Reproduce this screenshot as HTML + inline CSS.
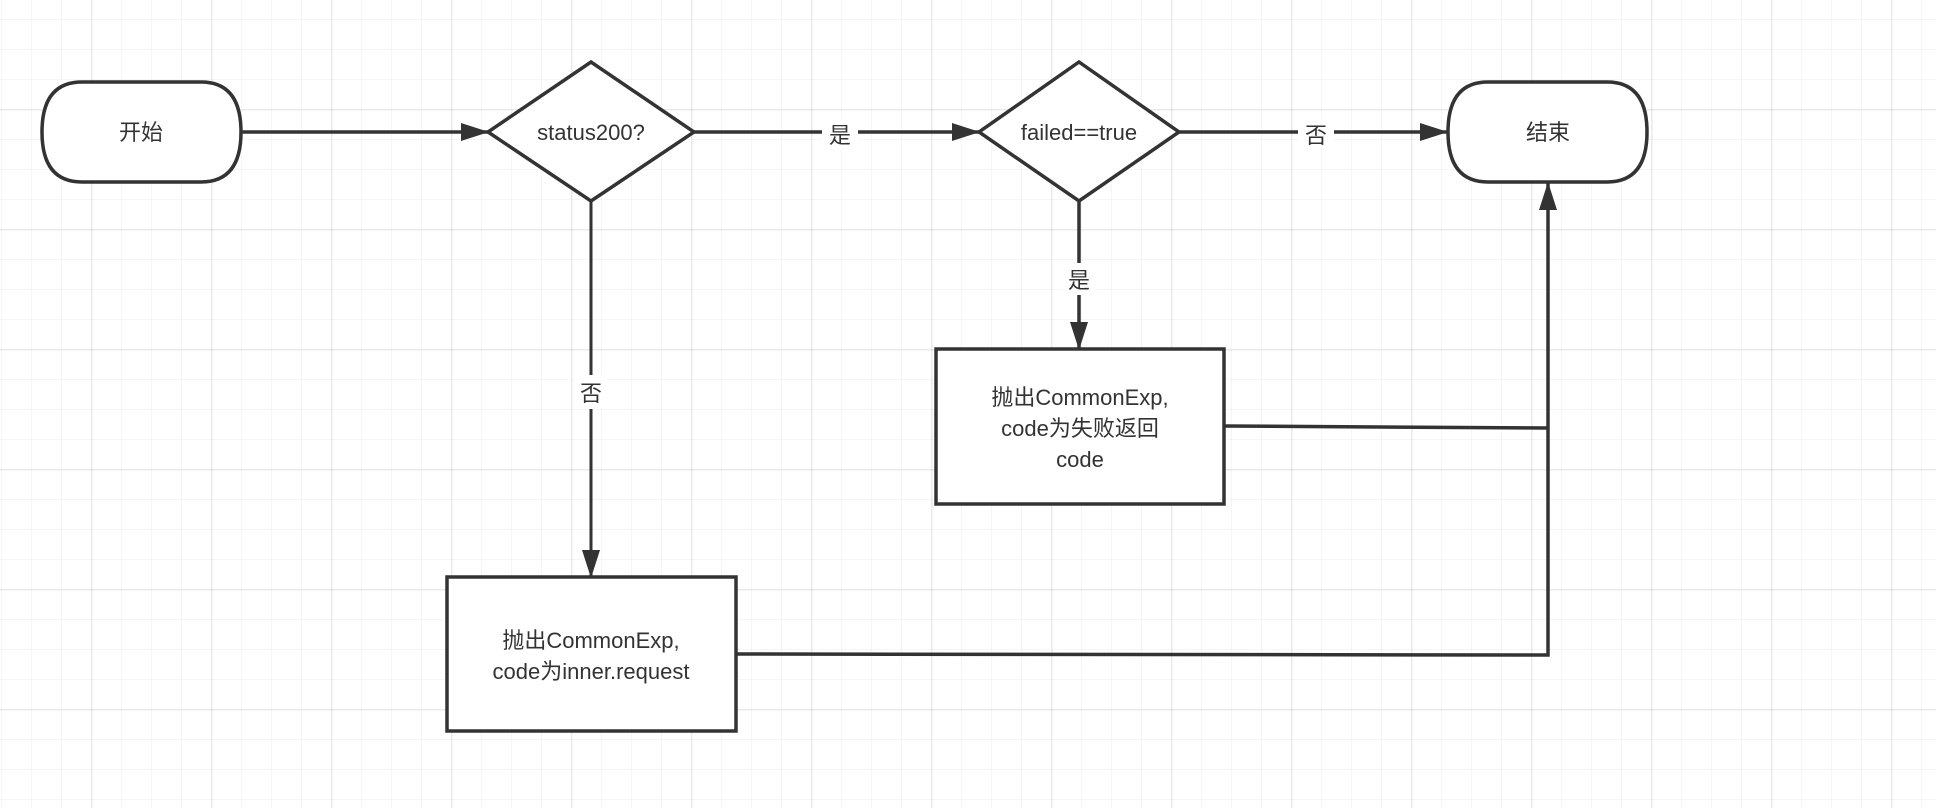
<!DOCTYPE html>
<html><head><meta charset="utf-8"><style>
html,body{margin:0;padding:0;}
body{width:1936px;height:808px;overflow:hidden;background:#fff;
background-image:
linear-gradient(to right, rgba(0,0,0,0.045) 2px, transparent 2px),
linear-gradient(to bottom, rgba(0,0,0,0.045) 2px, transparent 2px),
linear-gradient(to right, rgba(0,0,0,0.035) 1px, transparent 1px),
linear-gradient(to bottom, rgba(0,0,0,0.035) 1px, transparent 1px);
background-size:120px 120px,120px 120px,30px 30px,30px 30px;
background-position:91px 0,0 109px,1px 0,0 19px;}
svg{position:absolute;left:0;top:0;}
text{font-family:"Liberation Sans","Noto Sans CJK SC",sans-serif;font-size:22px;fill:#333;}
</style></head><body>
<svg width="1936" height="808" viewBox="0 0 1936 808">
<defs>
<marker id="b" markerWidth="28" markerHeight="18" refX="27" refY="9" orient="auto" markerUnits="userSpaceOnUse" viewBox="0 0 28 18"><path d="M0,0 L28,9 L0,18z" fill="#333"/></marker></defs>
<g stroke="#333" stroke-width="3.5" fill="none">
<line x1="242" y1="132" x2="488" y2="132" marker-end="url(#b)"/>
<line x1="694" y1="132" x2="979" y2="132" marker-end="url(#b)"/>
<line x1="1179" y1="132" x2="1447" y2="132" marker-end="url(#b)"/>
<line x1="591" y1="201" x2="591" y2="577" marker-end="url(#b)" stroke-width="3"/>
<line x1="1079" y1="201" x2="1079" y2="349" marker-end="url(#b)"/>
<polyline points="1224,426 1548,428"/>
<polyline points="736,654 1548,655 1548,183" marker-end="url(#b)"/>
</g>
<g stroke="#333" stroke-width="3.5" fill="#fff">
<path d="M82,82 H201 Q241,82 241,132 Q241,182 201,182 H82 Q42,182 42,132 Q42,82 82,82z"/>
<polygon points="488,132 591,62 694,132 591,201"/>
<polygon points="979,132 1079,62 1179,132 1079,201"/>
<path d="M1488,82 H1607 Q1647,82 1647,132 Q1647,182 1607,182 H1488 Q1448,182 1448,132 Q1448,82 1488,82z"/>
<rect x="936" y="349" width="288" height="155"/>
<rect x="447" y="577" width="289" height="154"/>
</g>
<g fill="#fff"><rect x="822" y="118" width="36" height="30"/><rect x="1298" y="118" width="36" height="30"/><rect x="1062" y="263" width="34" height="32"/><rect x="574" y="375" width="34" height="34"/></g>
<g text-anchor="middle">
<text x="141" y="140">开始</text>
<text x="591" y="140">status200?</text>
<text x="1079" y="140">failed==true</text>
<text x="1548" y="140">结束</text>
<text x="840" y="143">是</text>
<text x="1316" y="143">否</text>
<text x="1079" y="288">是</text>
<text x="591" y="401">否</text>
<text x="1080" y="405">抛出CommonExp,</text>
<text x="1080" y="436">code为失败返回</text>
<text x="1080" y="467">code</text>
<text x="591" y="648">抛出CommonExp,</text>
<text x="591" y="679">code为inner.request</text>
</g>
</svg>
</body></html>
